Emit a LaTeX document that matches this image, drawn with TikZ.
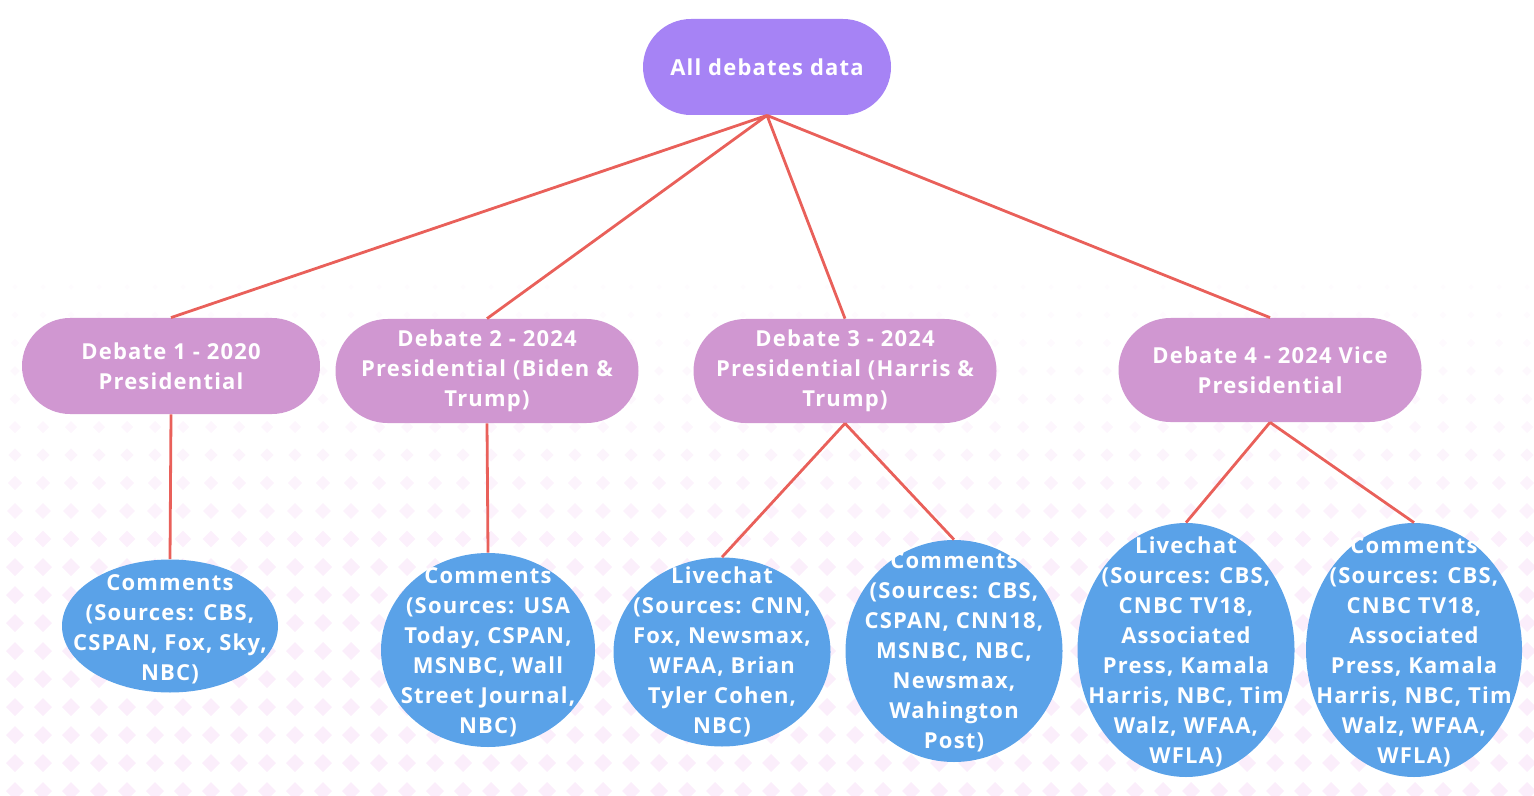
\documentclass[tikz,border=0pt]{standalone}
\usepackage{fontspec}
\usepackage{tikz}
\usetikzlibrary{shapes.geometric}
\newfontfamily\dbfont[LetterSpace=5.5]{Open Sans}
\definecolor{rootpurple}{HTML}{A683F5}
\definecolor{debatepink}{HTML}{D097D1}
\definecolor{leafblue}{HTML}{5AA2E8}
\definecolor{edgered}{HTML}{E9605A}
\definecolor{dotpink}{HTML}{FBEEFB}

\begin{document}
\begin{tikzpicture}[x=0.5pt,y=-0.5pt,
    txt/.style={text=white, align=center, inner sep=0pt,
      font=\dbfont\bfseries\fontsize{11pt}{15pt}\selectfont},
    pill/.style={txt, rectangle, minimum width=151.5pt, minimum height=52pt, rounded corners=26pt},
    leaf/.style={ellipse, fill=leafblue, inner sep=0pt},
    link/.style={draw=edgered, line width=1.4pt}]
    \useasboundingbox (0,0) rectangle (1534,796);
    \foreach \j in {0,...,18} {
      \pgfmathsetmacro{\r}{min(9,3+0.6*\j)}
      \pgfmathsetmacro{\op}{min(1,0.15+0.08*\j)}
      \foreach \i in {0,...,54}
        \fill[dotpink, fill opacity=\op] (15+28*\i,287+28*\j-\r) -- ++(\r,\r) -- ++(-\r,\r) -- ++(-\r,-\r) -- cycle;
    }

    \node[pill, fill=rootpurple, minimum width=124pt, minimum height=48pt, rounded corners=24pt] (all) at (767,67) {All debates data};

    \begin{scope}[every node/.append style={fill=debatepink}]
      \node[pill, minimum width=149pt, minimum height=48pt, rounded corners=24pt] (deb1) at (171,366) {Debate 1 - 2020\\Presidential};
      \node[pill] (deb2) at (487,371) {Debate 2 - 2024\\Presidential (Biden \&\\Trump)};
      \node[pill] (deb3) at (845,371) {Debate 3 - 2024\\Presidential (Harris \&\\Trump)};
      \node[pill] (deb4) at (1270,370) {Debate 4 - 2024 Vice\\Presidential};
    \end{scope}

    \node[leaf, minimum width=108pt, minimum height=66.5pt] (cmt1) at (170,626) {};
    \node[leaf, minimum width=107pt, minimum height=97pt] (cmt2) at (488,650) {};
    \node[leaf, minimum width=108.5pt, minimum height=94.5pt] (chat3) at (722,652) {};
    \node[leaf, minimum width=108.5pt, minimum height=111pt] (cmt3) at (954,651) {};
    \node[leaf, minimum width=108.5pt, minimum height=127pt] (chat4) at (1186,650) {};
    \node[leaf, minimum width=108pt, minimum height=127pt] (cmt4) at (1414,650) {};

    \node[txt] at (170,629) {Comments\\(Sources: CBS,\\CSPAN, Fox, Sky,\\NBC)};
    \node[txt] at (488,652) {Comments\\(Sources: USA\\Today, CSPAN,\\MSNBC, Wall\\Street Journal,\\NBC)};
    \node[txt] at (722,652) {Livechat\\(Sources: CNN,\\Fox, Newsmax,\\WFAA, Brian\\Tyler Cohen,\\NBC)};
    \node[txt] at (954,652) {Comments\\(Sources: CBS,\\CSPAN, CNN18,\\MSNBC, NBC,\\Newsmax,\\Wahington\\Post)};
    \node[txt] at (1186,652) {Livechat\\(Sources: CBS,\\CNBC TV18,\\Associated\\Press, Kamala\\Harris, NBC, Tim\\Walz, WFAA,\\WFLA)};
    \node[txt] at (1414,652) {Comments\\(Sources: CBS,\\CNBC TV18,\\Associated\\Press, Kamala\\Harris, NBC, Tim\\Walz, WFAA,\\WFLA)};

    \draw[link] (all.south) -- (deb1.north)
      (all.south) -- (deb2.north)
      (all.south) -- (deb3.north)
      (all.south) -- (deb4.north);
    \draw[link] (deb1.south) -- (cmt1.north);
    \draw[link] (deb2.south) -- (cmt2.north);
    \draw[link] (deb3.south) -- (chat3.north);
    \draw[link] (deb3.south) -- (cmt3.north);
    \draw[link] (deb4.south) -- (chat4.north);
    \draw[link] (deb4.south) -- (cmt4.north);
  \end{tikzpicture}
\end{document}
